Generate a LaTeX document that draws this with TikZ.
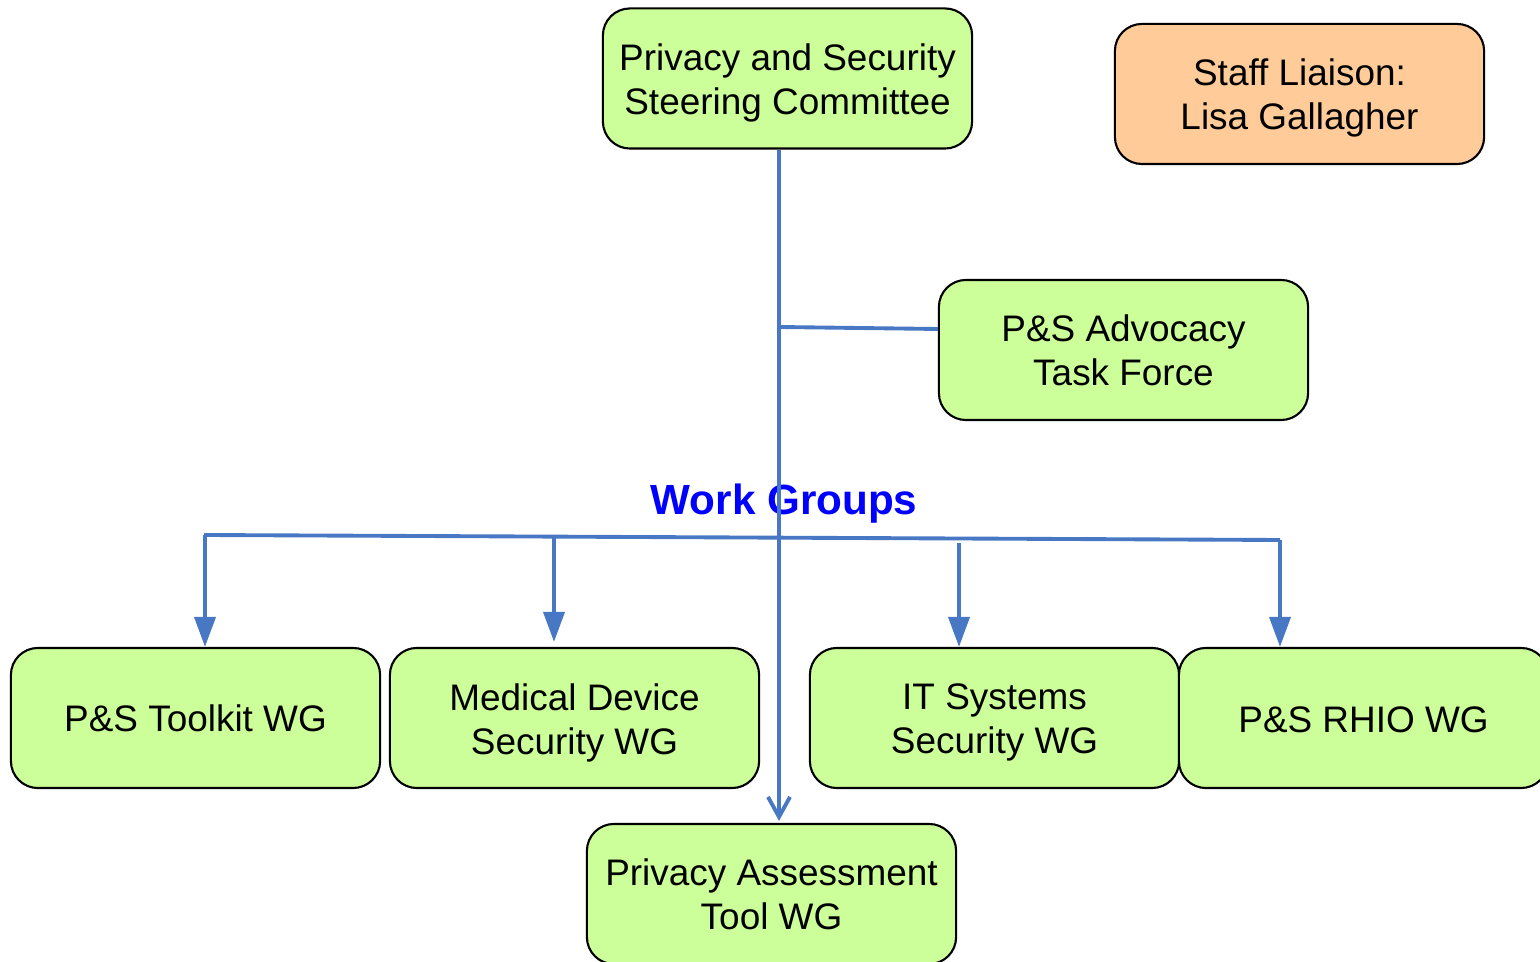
\documentclass[tikz,border=0pt]{standalone}
\usepackage{fontspec}
\setmainfont{Liberation Sans}
\usetikzlibrary{arrows.meta}
\definecolor{boxgreen}{HTML}{CCFF99}
\definecolor{boxpeach}{HTML}{FFCC99}
\definecolor{linkblue}{HTML}{4878C4}
\definecolor{titleblue}{HTML}{0000FF}
\tikzset{
  unit/.style={draw=black, line width=0.6pt, rounded corners=0.27cm,
    minimum width=3.69cm, minimum height=1.40cm, inner sep=0pt},
  greenbox/.style={unit, fill=boxgreen},
  peachbox/.style={unit, fill=boxpeach},
  boxtext/.style={align=center, inner sep=0pt,
    font=\fontsize{10.5pt}{12.5pt}\selectfont},
  % caption set in the middle of a box, lowered by #1
  says/.style 2 args={label={[boxtext, yshift=-#1]center:{#2}}},
  link/.style={draw=linkblue, line width=1.1pt},
  drop/.style={link, -{Triangle[length=0.3cm, width=0.21cm]}},
  openlink/.style={link, -{Straight Barb[length=0.2cm, width=0.22cm, line width=1.1pt]}},
}
\begin{document}
\begin{tikzpicture}[x=0.01cm, y=-0.01cm]
\useasboundingbox (0,0) rectangle (1540,962);

% committee, liaison and task force
\node[greenbox, says={0.04cm}{Privacy and Security\\Steering Committee}] (steer) at (787.5,78.5) {};
\node[peachbox, says={0.035cm}{Staff Liaison:\\Lisa Gallagher}] (staff) at (1299.5,94) {};
\node[greenbox, says={0.005cm}{P\&S Advocacy\\Task Force}] (advoc) at (1123.5,350) {};

% work groups
\node[greenbox, says={0cm}{P\&S Toolkit WG}] (toolkit) at (195.5,718) {};
\node[greenbox, says={0.045cm}{Medical Device\\Security WG}] (medical) at (574.5,718) {};
\node[greenbox, says={0.045cm}{IT Systems\\Security WG}] (itsys) at (994.5,718) {};
\node[greenbox, says={0.02cm}{P\&S RHIO WG}] (rhio) at (1363.5,718) {};
\node[greenbox, says={0.005cm}{Privacy Assessment\\Tool WG}] (assess) at (771.5,894) {};

\node[font=\fontsize{12pt}{14pt}\selectfont\bfseries, text=titleblue] (wglabel) at (784,504) {Work Groups};

% trunk from the committee down to the assessment tool group
\coordinate (trunk) at (779,0);
\draw[openlink] (steer.south -| trunk) -- ([yshift=0.02cm]assess.north -| trunk);
% branch to the task force
\coordinate (tfjoin) at (779,327);
\draw[link] (tfjoin) -- (advoc.west |- 0,329);

% distribution bar and drops
\coordinate (barL) at (204,535);
\coordinate (barR) at (1280,540);
\draw[link] (barL) -- (barR);
\coordinate (dropA) at (205,535);
\coordinate (dropB) at (554,536);
\coordinate (dropC) at (959,543);
\coordinate (dropD) at (1280,540);
\draw[drop] (dropA) -- (toolkit.north -| dropA);
\draw[drop] (dropB) -- ([yshift=0.05cm]medical.north -| dropB);
\draw[drop] (dropC) -- (itsys.north -| dropC);
\draw[drop] (dropD) -- (rhio.north -| dropD);
\end{tikzpicture}
\end{document}
